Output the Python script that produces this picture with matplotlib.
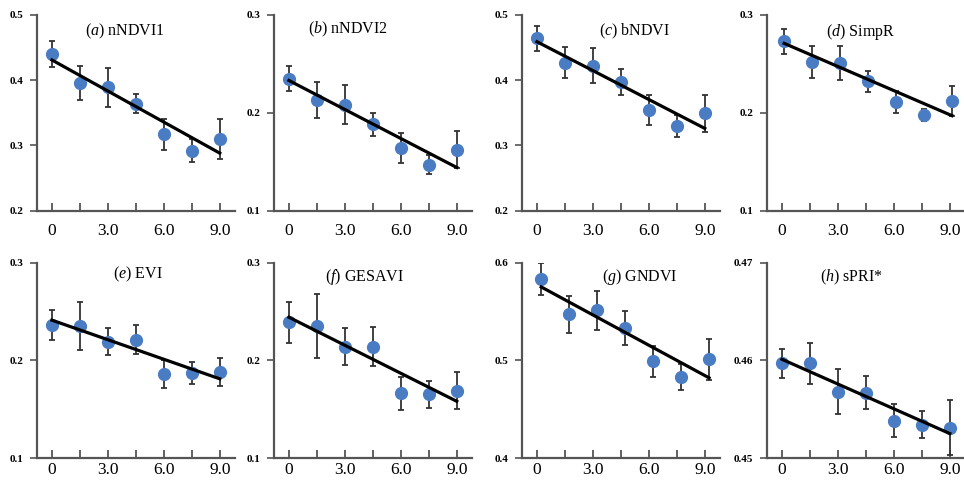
import matplotlib
matplotlib.use("Agg")
import matplotlib.pyplot as plt

plt.rcParams['font.family'] = ['Liberation Serif', 'DejaVu Serif']
plt.rcParams['mathtext.fontset'] = 'custom'
plt.rcParams['mathtext.rm'] = 'Liberation Serif'
plt.rcParams['mathtext.it'] = 'Liberation Serif:italic'

# dose levels (x)
doses = [0, 1.5, 3.0, 4.5, 6.0, 7.5, 9.0]

# (a) nNDVI1
nndvi1_mean = [0.440, 0.395, 0.389, 0.364, 0.317, 0.292, 0.310]
nndvi1_err = [0.020, 0.026, 0.030, 0.015, 0.024, 0.018, 0.031]
nndvi1_fit = [0.431, 0.288]
# (b) nNDVI2
nndvi2_mean = [0.235, 0.213, 0.208, 0.188, 0.164, 0.147, 0.162]
nndvi2_err = [0.013, 0.018, 0.020, 0.012, 0.015, 0.010, 0.019]
nndvi2_fit = [0.233, 0.144]
# (c) bNDVI
bndvi_mean = [0.464, 0.427, 0.422, 0.397, 0.354, 0.330, 0.349]
bndvi_err = [0.019, 0.024, 0.027, 0.020, 0.023, 0.017, 0.029]
bndvi_fit = [0.459, 0.326]
# (d) SimpR
simpr_mean = [0.273, 0.252, 0.251, 0.232, 0.211, 0.198, 0.212]
simpr_err = [0.013, 0.016, 0.017, 0.011, 0.011, 0.006, 0.015]
simpr_fit = [0.271, 0.197]
# (e) EVI
evi_mean = [0.236, 0.235, 0.219, 0.221, 0.186, 0.187, 0.188]
evi_err = [0.015, 0.025, 0.014, 0.015, 0.014, 0.011, 0.014]
evi_fit = [0.241, 0.181]
# (f) GESAVI
gesavi_mean = [0.239, 0.235, 0.214, 0.214, 0.166, 0.165, 0.169]
gesavi_err = [0.021, 0.033, 0.019, 0.020, 0.017, 0.014, 0.019]
gesavi_fit = [0.244, 0.158]
# (g) GNDVI
gndvi_mean = [0.583, 0.547, 0.551, 0.533, 0.499, 0.483, 0.501]
gndvi_err = [0.016, 0.019, 0.020, 0.017, 0.016, 0.013, 0.021]
gndvi_fit = [0.575, 0.482]
# (h) sPRI*
spri_mean = [0.4597, 0.4597, 0.4568, 0.4567, 0.4538, 0.4534, 0.4531]
spri_err = [0.0015, 0.0021, 0.0023, 0.0017, 0.0017, 0.0014, 0.0028]
spri_fit = [0.4601, 0.4525]

letters = ['a', 'b', 'c', 'd', 'e', 'f', 'g', 'h']
names = ['nNDVI1', 'nNDVI2', 'bNDVI', 'SimpR', 'EVI', 'GESAVI', 'GNDVI', 'sPRI*']
means = [nndvi1_mean, nndvi2_mean, bndvi_mean, simpr_mean,
         evi_mean, gesavi_mean, gndvi_mean, spri_mean]
errs = [nndvi1_err, nndvi2_err, bndvi_err, simpr_err,
        evi_err, gesavi_err, gndvi_err, spri_err]
fits = [nndvi1_fit, nndvi2_fit, bndvi_fit, simpr_fit,
        evi_fit, gesavi_fit, gndvi_fit, spri_fit]
yticks = [[0.2, 0.3, 0.4, 0.5], [0.1, 0.2, 0.3], [0.2, 0.3, 0.4, 0.5], [0.1, 0.2, 0.3],
          [0.1, 0.2, 0.3], [0.1, 0.2, 0.3], [0.4, 0.5, 0.6], [0.45, 0.46, 0.47]]
ylabels = [['0.2', '0.3', '0.4', '0.5'], ['0.1', '0.2', '0.3'], ['0.2', '0.3', '0.4', '0.5'],
           ['0.1', '0.2', '0.3'], ['0.1', '0.2', '0.3'], ['0.1', '0.2', '0.3'],
           ['0.4', '0.5', '0.6'], ['0.45', '0.46', '0.47']]

# layout (pixels / axes fractions)
W, H = 964, 484
col_left = [37, 274, 522, 767]
row_bottom = [273.5, 26]
row_pad = [9, 3]
ax_w, ax_h = 197.7, 195.5
x_shift = [0, 0, 0, 0.12, 0, 0, 0.23, 0]
title_x = [0.445, 0.374, 0.57, 0.475, 0.51, 0.458, 0.597, 0.425]
title_y = [0.915, 0.927, 0.915, 0.913, 0.937, 0.928, 0.925, 0.925]

spine_col = '#555555'
fig = plt.figure(figsize=(W / 100, H / 100), dpi=100)

for i in range(8):
    r, c = divmod(i, 4)
    ax = fig.add_axes([col_left[c] / W, row_bottom[r] / H, ax_w / W, ax_h / H])
    xs = [d + x_shift[i] for d in doses]
    ax.errorbar(xs, means[i], yerr=errs[i], fmt='o', color='#4a7cc4', ms=8.5,
                ecolor='#333333', elinewidth=1.3, capsize=2.2, capthick=1.3, zorder=2)
    ax.plot([doses[0] + x_shift[i], doses[-1] + x_shift[i]], fits[i],
            color='black', lw=2.3, zorder=3)

    ax.set_xlim(-0.8, 9.8)
    ax.set_ylim(yticks[i][0], yticks[i][-1])
    ax.set_xticks([0, 3, 6, 9])
    ax.set_xticklabels(['0', '3.0', '6.0', '9.0'])
    ax.set_xticks([1.5, 4.5, 7.5], minor=True)
    ax.set_yticks(yticks[i])
    ax.set_yticklabels(ylabels[i], fontweight='bold')

    for s in ['top', 'right']:
        ax.spines[s].set_visible(False)
    for s in ['left', 'bottom']:
        ax.spines[s].set_color(spine_col)
        ax.spines[s].set_linewidth(1.6)
    ax.tick_params(axis='x', which='both', direction='in', length=6, width=1.3,
                   color=spine_col, pad=row_pad[r], labelsize=12.5)
    ax.tick_params(axis='y', direction='out', length=5, width=1.2,
                   color=spine_col, pad=5, labelsize=8)

    ax.text(title_x[i], title_y[i], r'($\mathit{%s}$) %s' % (letters[i], names[i]),
            transform=ax.transAxes, ha='center', va='center', fontsize=11.5)

fig.savefig('out.png', dpi=100)
